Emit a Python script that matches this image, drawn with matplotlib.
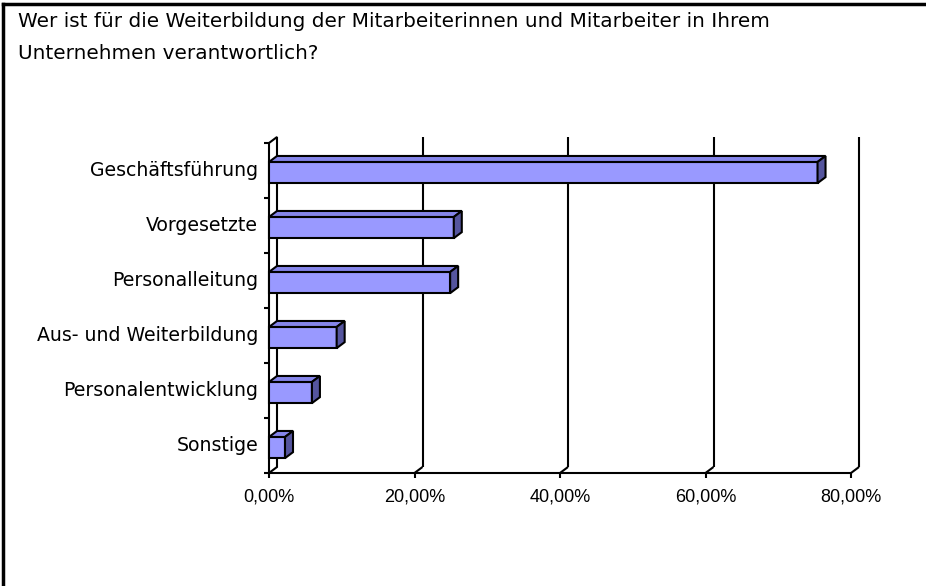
import matplotlib
matplotlib.use("Agg")
import matplotlib.pyplot as plt
from matplotlib.patches import Polygon
from matplotlib.lines import Line2D
import numpy as np

# data, bottom to top as drawn
categories = ["Sonstige", "Personalentwicklung", "Aus- und Weiterbildung",
              "Personalleitung", "Vorgesetzte", "Geschäftsführung"]
values = [2.2, 5.9, 9.3, 24.9, 25.4, 75.4]
xticks = [0, 20, 40, 60, 80]
xticklabels = ["0,00%", "20,00%", "40,00%", "60,00%", "80,00%"]
title = ("Wer ist für die Weiterbildung der Mitarbeiterinnen und Mitarbeiter in Ihrem\n"
         "Unternehmen verantwortlich?")

W, H = 926, 586
fig = plt.figure(figsize=(W / 100, H / 100), dpi=100)
fig.patch.set_facecolor("white")

# axes box = front floor line / front left wall (pixels)
x0, x1 = 269, 851
y_floor, y_top = 473, 143
ax = fig.add_axes([x0 / W, 1 - y_floor / H, (x1 - x0) / W, (y_floor - y_top) / H])
ax.set_xlim(0, 80)
ax.set_ylim(-0.5, len(categories) - 0.5)
ax.axis("off")

px_x = 80 / (x1 - x0)
px_y = len(categories) / (y_floor - y_top)
dx = 8 * px_x   # depth offset
dy = 6 * px_y

lw = 1.5
k = dict(color="black", lw=lw, clip_on=False, solid_capstyle="butt")
ymin, ymax = -0.5, len(categories) - 0.5

# back wall gridlines + floor diagonals
for t in xticks[1:]:
    ax.add_line(Line2D([t + dx, t + dx], [ymin + dy, ymax + dy], **k))
    ax.add_line(Line2D([t, t + dx], [ymin, ymin + dy], **k))
# left wall
ax.add_patch(Polygon([(0, ymin), (dx, ymin + dy), (dx, ymax + dy), (0, ymax)],
                     closed=True, facecolor="white", edgecolor="black", lw=lw, clip_on=False))
# floor front line
ax.add_line(Line2D([0, 80], [ymin, ymin], **k))
# ticks
tl_x = 5 * px_x
tl_y = 5 * px_y
for b in np.arange(ymin, ymax + 0.01, 1.0):
    ax.add_line(Line2D([-tl_x, 0], [b, b], **k))
for t in xticks:
    ax.add_line(Line2D([t, t], [ymin - tl_y, ymin], **k))

# bars
front_c = "#9999FF"
top_c = "#8585EA"
side_c = "#55559E"
lo, hi = -0.23, 0.155
for i, v in enumerate(values):
    ax.barh(i + (lo + hi) / 2, v, height=hi - lo, left=0, color=front_c,
            edgecolor="black", lw=lw, clip_on=False, zorder=3)
    ax.add_patch(Polygon([(0, i + hi), (v, i + hi), (v + dx, i + hi + dy), (dx, i + hi + dy)],
                         closed=True, facecolor=top_c, edgecolor="black", lw=lw,
                         clip_on=False, zorder=3, joinstyle="miter"))
    ax.add_patch(Polygon([(v, i + lo), (v + dx, i + lo + dy), (v + dx, i + hi + dy), (v, i + hi)],
                         closed=True, facecolor=side_c, edgecolor="black", lw=lw,
                         clip_on=False, zorder=3, joinstyle="miter"))

# labels
for i, c in enumerate(categories):
    ax.text(-11 * px_x, i, c, ha="right", va="center", fontsize=13.6)
for t, s in zip(xticks, xticklabels):
    ax.text(t, ymin - 24 * px_y, s, ha="center", va="center", fontsize=13,
            family=["Liberation Sans", "DejaVu Sans"])

fig.text(18 / W, 1 - 12 / H, title, ha="left", va="top", fontsize=14.4,
         linespacing=1.85)

# frame: left and top only
fig.add_artist(Line2D([3 / W, 3 / W], [0, 1 - 4 / H], color="black", lw=2.5))
fig.add_artist(Line2D([3 / W, 1], [1 - 4 / H, 1 - 4 / H], color="black", lw=2.5))

fig.savefig("out.png", dpi=100, facecolor="white")
